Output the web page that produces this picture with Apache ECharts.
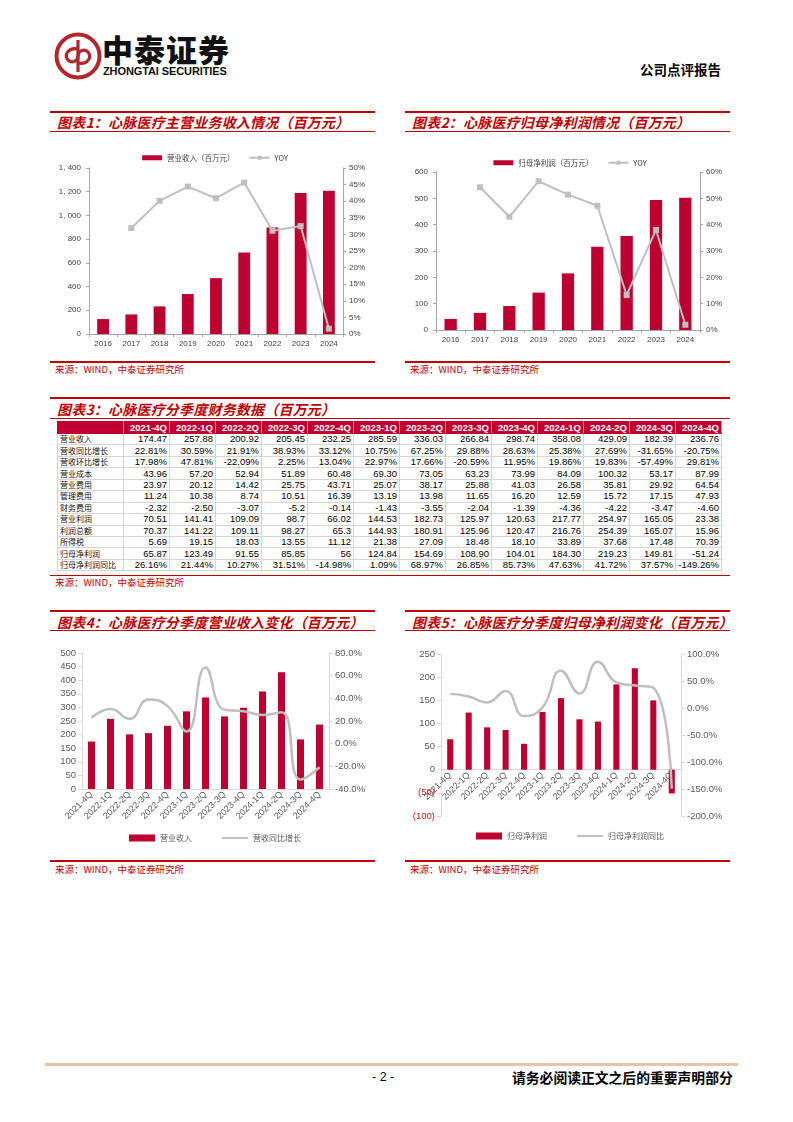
<!DOCTYPE html>
<html><head><meta charset="utf-8">
<script src="https://cdn.jsdelivr.net/npm/echarts@6/dist/echarts.min.js"></script>
<style>
html,body{margin:0;padding:0;background:#fff;}
#page{position:relative;width:793px;height:1122px;overflow:hidden;font-family:"Liberation Sans",Arial,sans-serif;}
.abs{position:absolute;}
.rline{position:absolute;background:#C00000;}
.title{position:absolute;font-family:"Noto Sans CJK SC";font-weight:bold;font-style:italic;color:#C00000;font-size:14px;line-height:18px;letter-spacing:0.2px;white-space:nowrap;}
.src{position:absolute;font-family:"Noto Sans CJK SC";color:#C00000;font-size:9.5px;line-height:12px;white-space:nowrap;}
.chart{position:absolute;}
table{border-collapse:collapse;table-layout:fixed;}
td{padding:0 2px 0 0;margin:0;height:10.45px;line-height:10px;font-size:9.5px;text-align:right;border:1px solid #d4d4d4;color:#000;overflow:hidden;white-space:nowrap;}
td.lab{text-align:left;font-family:"Noto Sans CJK SC";font-size:8px;padding-left:2px;color:#111;}
tr.hd td{background:#C00030;color:#fff;font-weight:bold;border:1px solid #C00030;border-right:1px solid #d88;height:11px;}
</style></head>
<body><div id="page">
<!-- header -->
<svg class="abs" style="left:50px;top:28px" width="60" height="60" viewBox="0 0 60 60">
  <circle cx="28" cy="28" r="21.5" fill="none" stroke="#B3262C" stroke-width="4"/>
  <path d="M28 12 L28 44" stroke="#B3262C" stroke-width="3.2"/>
  <path d="M28 21 C18 19 14 27 18 32 C22 36 28 33 28 28" fill="none" stroke="#B3262C" stroke-width="3.2"/>
  <path d="M28 35 C38 37 42 29 38 24 C34 20 28 23 28 28" fill="none" stroke="#B3262C" stroke-width="3.2"/>
</svg>
<div class="abs" style="left:102px;top:31px;font-family:'Noto Sans CJK SC';font-weight:900;font-size:31px;line-height:36px;color:#111;letter-spacing:1px;">中泰证券</div>
<div class="abs" style="left:103px;top:65px;font-family:'Liberation Sans';font-weight:bold;font-size:11px;line-height:12px;color:#111;letter-spacing:-0.1px;">ZHONGTAI SECURITIES</div>
<div class="abs" style="left:640px;top:61px;font-family:'Noto Sans CJK SC';font-weight:bold;font-size:13.5px;line-height:16px;color:#000;">公司点评报告</div>

<!-- section 1/2 -->
<div class="rline" style="left:50px;top:111px;width:325px;height:2px"></div>
<div class="title" style="left:57px;top:113px">图表1：心脉医疗主营业务收入情况（百万元）</div>
<div class="rline" style="left:50px;top:130.5px;width:325px;height:1.5px"></div>
<div class="rline" style="left:405px;top:111px;width:325px;height:2px"></div>
<div class="title" style="left:412px;top:113px">图表2：心脉医疗归母净利润情况（百万元）</div>
<div class="rline" style="left:405px;top:130.5px;width:325px;height:1.5px"></div>
<div id="c1" class="chart" style="left:50px;top:135px;width:330px;height:220px"></div>
<div id="c2" class="chart" style="left:405px;top:135px;width:330px;height:220px"></div>
<div class="rline" style="left:50px;top:361px;width:325px;height:1.5px"></div>
<div class="src" style="left:55px;top:363px">来源：WIND，中泰证券研究所</div>
<div class="rline" style="left:405px;top:361px;width:325px;height:1.5px"></div>
<div class="src" style="left:410px;top:363px">来源：WIND，中泰证券研究所</div>

<!-- section 3 -->
<div class="rline" style="left:50px;top:397px;width:680px;height:2px"></div>
<div class="title" style="left:57px;top:400px">图表3：心脉医疗分季度财务数据（百万元）</div>
<div class="rline" style="left:50px;top:417.5px;width:680px;height:1.5px"></div>
<div id="tbl" class="abs" style="left:57px;top:421px"></div>
<div class="rline" style="left:50px;top:574.5px;width:680px;height:1.5px"></div>
<div class="src" style="left:55px;top:576px">来源：WIND，中泰证券研究所</div>

<!-- section 4/5 -->
<div class="rline" style="left:50px;top:610px;width:325px;height:2px"></div>
<div class="title" style="left:57px;top:613px">图表4：心脉医疗分季度营业收入变化（百万元）</div>
<div class="rline" style="left:50px;top:629.5px;width:325px;height:1.5px"></div>
<div class="rline" style="left:405px;top:610px;width:325px;height:2px"></div>
<div class="title" style="left:412px;top:613px">图表5：心脉医疗分季度归母净利润变化（百万元）</div>
<div class="rline" style="left:405px;top:629.5px;width:325px;height:1.5px"></div>
<div id="c4" class="chart" style="left:50px;top:635px;width:330px;height:215px"></div>
<div id="c5" class="chart" style="left:405px;top:635px;width:330px;height:215px"></div>
<div class="rline" style="left:50px;top:860px;width:325px;height:1.5px"></div>
<div class="src" style="left:55px;top:863px">来源：WIND，中泰证券研究所</div>
<div class="rline" style="left:405px;top:860px;width:325px;height:1.5px"></div>
<div class="src" style="left:410px;top:863px">来源：WIND，中泰证券研究所</div>

<!-- footer -->
<div class="abs" style="left:45px;top:1063px;width:693px;height:3px;background:#E8C3A6"></div>
<div class="abs" style="left:372px;top:1069px;font-size:12.5px;line-height:16px;color:#000;">- 2 -</div>
<div class="abs" style="left:512px;top:1069px;font-family:'Noto Sans CJK SC';font-weight:bold;font-size:13.8px;line-height:16px;color:#000;">请务必阅读正文之后的重要声明部分</div>
</div>
<script>
// ---------- data ----------
const years = ['2016','2017','2018','2019','2020','2021','2022','2023','2024'];
const annualRevenue = [126, 165, 233, 337, 471, 687, 898, 1189, 1209];
const annualRevenueYoy = [null, 31.9, 40.1, 44.4, 40.9, 45.6, 31.1, 32.5, 1.6];
const annualNetProfit = [42, 65, 91, 142, 215, 316, 357, 494, 502];
const annualNetProfitYoy = [null, 54.2, 43.0, 56.5, 51.4, 47.2, 13.3, 38.0, 2.0];

const quarters = ['2021-4Q','2022-1Q','2022-2Q','2022-3Q','2022-4Q','2023-1Q','2023-2Q','2023-3Q','2023-4Q','2024-1Q','2024-2Q','2024-3Q','2024-4Q'];
const rowLabels = ['营业收入','营收同比增长','营收环比增长','营业成本','营业费用','管理费用','财务费用','营业利润','利润总额','所得税','归母净利润','归母净利润同比'];
const qRevenue      = ['174.47','257.88','200.92','205.45','232.25','285.59','336.03','266.84','298.74','358.08','429.09','182.39','236.76'];
const qRevenueYoy   = ['22.81%','30.59%','21.91%','38.93%','33.12%','10.75%','67.25%','29.88%','28.63%','25.38%','27.69%','-31.65%','-20.75%'];
const qRevenueQoq   = ['17.98%','47.81%','-22.09%','2.25%','13.04%','22.97%','17.66%','-20.59%','11.95%','19.86%','19.83%','-57.49%','29.81%'];
const qCost         = ['43.96','57.20','52.94','51.89','60.48','69.30','73.05','63.23','73.99','84.09','100.32','53.17','87.99'];
const qSellExp      = ['23.97','20.12','14.42','25.75','43.71','25.07','38.17','25.88','41.03','26.58','35.81','29.92','64.54'];
const qAdminExp     = ['11.24','10.38','8.74','10.51','16.39','13.19','13.98','11.65','16.20','12.59','15.72','17.15','47.93'];
const qFinExp       = ['-2.32','-2.50','-3.07','-5.2','-0.14','-1.43','-3.55','-2.04','-1.39','-4.36','-4.22','-3.47','-4.60'];
const qOpProfit     = ['70.51','141.41','109.09','98.7','66.02','144.53','182.73','125.97','120.63','217.77','254.97','165.05','23.38'];
const qTotalProfit  = ['70.37','141.22','109.11','98.27','65.3','144.93','180.91','125.96','120.47','216.76','254.39','165.07','15.96'];
const qTax          = ['5.69','19.15','18.03','13.55','11.12','21.38','27.09','18.48','18.10','33.89','37.68','17.48','70.39'];
const qNetProfit    = ['65.87','123.49','91.55','85.85','56','124.84','154.69','108.90','104.01','184.30','219.23','149.81','-51.24'];
const qNetProfitYoy = ['26.16%','21.44%','10.27%','31.51%','-14.98%','1.09%','68.97%','26.85%','85.73%','47.63%','41.72%','37.57%','-149.26%'];
const tableRows = [qRevenue,qRevenueYoy,qRevenueQoq,qCost,qSellExp,qAdminExp,qFinExp,qOpProfit,qTotalProfit,qTax,qNetProfit,qNetProfitYoy];

// ---------- table ----------
(function(){
  let h = '<table style="width:664px"><colgroup><col style="width:66px">';
  quarters.forEach(()=>{h+='<col style="width:46px">';});
  h += '</colgroup><tr class="hd"><td></td>';
  quarters.forEach(q=>{h+='<td>'+q+'</td>';});
  h += '</tr>';
  rowLabels.forEach((lab,i)=>{
    h += '<tr><td class="lab">'+lab+'</td>';
    tableRows[i].forEach(v=>{h+='<td>'+v+'</td>';});
    h += '</tr>';
  });
  h += '</table>';
  document.getElementById('tbl').innerHTML = h;
})();

const RED = '#BE0030';
const GREY = '#BFBFBF';
const num = a => a.map(s => parseFloat(s));
const LINE_ICON = 'path://M0,0 L0,0 Z M26,7 L26,7 Z M0,2.4 L26,2.4 L26,4.6 L0,4.6 Z';

function annualOption(barName, bars, yoy, lmax, linterval, rmax, rinterval, grid, legendTop, lfmt){
  const axisCol = '#A6A6A6';
  return {
    animation:false,
    textStyle:{fontFamily:'Liberation Sans'},
    legend:{top:legendTop,left:'center',itemGap:14,itemWidth:20,itemHeight:5,
      textStyle:{fontSize:7.5,color:'#404040',fontFamily:'Noto Sans CJK SC'},
      data:[{name:barName,icon:'rect'},{name:'YOY'}]},
    grid:grid,
    xAxis:{type:'category',data:years,
      axisLine:{lineStyle:{color:axisCol}},
      axisTick:{show:true,length:3,lineStyle:{color:axisCol}},
      axisLabel:{fontSize:8,color:'#404040',margin:6}},
    yAxis:[
      {type:'value',min:0,max:lmax,interval:linterval,
        axisLine:{show:true,lineStyle:{color:axisCol}},
        axisTick:{show:true,length:3,lineStyle:{color:axisCol}},
        splitLine:{show:false},
        axisLabel:{fontSize:8,color:'#404040',margin:8,formatter:lfmt}},
      {type:'value',min:0,max:rmax,interval:rinterval,position:'right',
        axisLine:{show:true,lineStyle:{color:axisCol}},
        axisTick:{show:true,length:3,lineStyle:{color:axisCol}},
        splitLine:{show:false},
        axisLabel:{fontSize:8,color:'#404040',margin:6,formatter:v=>v+'%'}}
    ],
    series:[
      {name:barName,type:'bar',data:bars,barWidth:'42%',itemStyle:{color:RED}},
      {name:'YOY',type:'line',yAxisIndex:1,data:yoy,symbol:'rect',symbolSize:6,
        lineStyle:{color:GREY,width:2},itemStyle:{color:GREY}}
    ]
  };
}

const c1 = echarts.init(document.getElementById('c1'));
c1.setOption(annualOption('营业收入（百万元）',annualRevenue,annualRevenueYoy,1400,200,50,5,
  {left:39,right:37,top:33,bottom:21},14,
  v => v>=1000 ? Math.floor(v/1000)+', '+String(v%1000).padStart(3,'0') : String(v)));

const c2 = echarts.init(document.getElementById('c2'));
c2.setOption(annualOption('归母净利润（百万元）',annualNetProfit,annualNetProfitYoy,600,100,60,10,
  {left:31,right:35,top:37,bottom:25},19, v=>String(v)));

function quarterOption(barName, lineName, bars, line, lmin, lmax, linterval, rmin, rmax, rinterval, grid, chartH, legendTop, barW, negRed){
  const axisCol = '#D9D9D9';
  const lab = '#595959';
  // x axis sits on the zero value of the left axis
  const gridH = chartH - grid.top - grid.bottom;
  const zeroOffset = -gridH * (0 - lmin) / (lmax - lmin);
  return {
    animation:false,
    textStyle:{fontFamily:'Liberation Sans'},
    legend:{top:legendTop,left:'center',itemGap:30,itemWidth:26,itemHeight:7,
      textStyle:{fontSize:8,color:'#595959',fontFamily:'Noto Sans CJK SC'},
      data:[{name:barName,icon:'rect'},{name:lineName,icon:LINE_ICON}]},
    grid:grid,
    xAxis:{type:'category',data:quarters,offset:zeroOffset,
      axisLine:{onZero:false,lineStyle:{color:axisCol}},
      axisTick:{show:false},
      axisLabel:{fontSize:9,color:lab,rotate:45,margin:4,interval:0}},
    yAxis:[
      {type:'value',min:lmin,max:lmax,interval:linterval,
        axisLine:{show:true,lineStyle:{color:axisCol}},
        axisTick:{show:true,length:4,lineStyle:{color:axisCol}},
        splitLine:{show:false},
        axisLabel:{fontSize:9.5,margin:6,
          color: v => (negRed && v<0) ? '#E0101A' : lab,
          formatter: v => (negRed && v<0) ? '('+Math.abs(v)+')' : String(v)}},
      {type:'value',min:rmin,max:rmax,interval:rinterval,position:'right',
        axisLine:{show:true,lineStyle:{color:axisCol}},
        axisTick:{show:true,length:4,lineStyle:{color:axisCol}},
        splitLine:{show:false},
        axisLabel:{fontSize:9.5,color:lab,margin:6,formatter:v=>v.toFixed(1)+'%'}}
    ],
    series:[
      {name:barName,type:'bar',data:bars,barWidth:barW,itemStyle:{color:RED}},
      {name:lineName,type:'line',yAxisIndex:1,data:line,smooth:0.5,symbol:'none',
        lineStyle:{color:GREY,width:2.5},itemStyle:{color:GREY}}
    ]
  };
}

const c4 = echarts.init(document.getElementById('c4'));
c4.setOption(quarterOption('营业收入','营收同比增长',num(qRevenue),num(qRevenueYoy),0,500,50,-40,80,20,
  {left:32,right:51,top:18,bottom:61},215,194,'37%',false));

const c5 = echarts.init(document.getElementById('c5'));
c5.setOption(quarterOption('归母净利润','归母净利润同比',num(qNetProfit),num(qNetProfitYoy),-100,250,50,-200,100,50,
  {left:36,right:54,top:19,bottom:34},215,192,'33%',true));
</script>
</body></html>
